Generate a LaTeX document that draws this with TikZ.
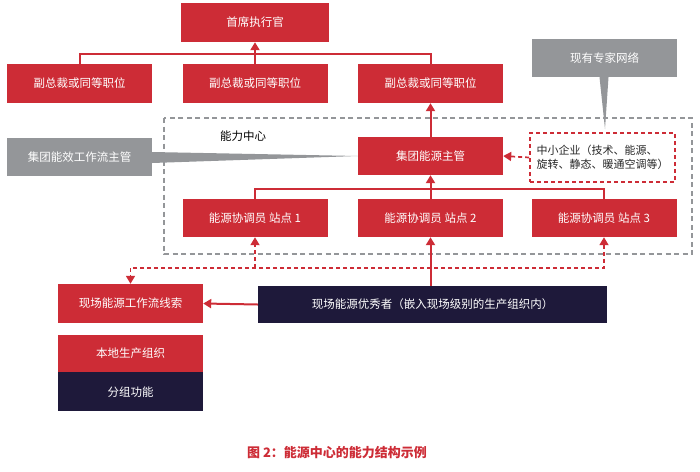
\documentclass[tikz,border=0pt]{standalone}
\usepackage{fontspec}
\setmainfont{Noto Sans CJK SC}
\definecolor{CoreRed}{RGB}{205,44,54}
\definecolor{DeepNavy}{RGB}{30,25,58}
\definecolor{NetGray}{RGB}{148,150,153}
\usetikzlibrary{arrows.meta, positioning, calc}

\begin{document}
\begin{tikzpicture}[x=1pt, y=-1pt,
    every node/.style={font=\fontsize{11.5}{14}\selectfont},
    redbox/.style={fill=CoreRed, text=white, minimum width=145pt, minimum height=38pt, inner sep=0pt},
    greybox/.style={fill=NetGray, text=white, minimum width=145pt, minimum height=38pt, inner sep=0pt},
    navybox/.style={fill=DeepNavy, text=white, minimum height=37pt, inner sep=0pt},
    redline/.style={draw=CoreRed, line width=2pt},
    reddash/.style={draw=CoreRed, line width=1.7pt, dash pattern=on 4pt off 3pt},
    tip/.tip={Triangle[length=8pt, width=9pt]}]

      \useasboundingbox (0,0) rectangle (700,471);

      % capability centre frame
      \draw[NetGray, line width=1.8pt, dash pattern=on 5pt off 3.5pt] (164,118) rectangle (692,254);
      \node (cclabel) at (243,136) {能力中心};

      % top of the tree
      \node[redbox, minimum width=148pt, minimum height=39pt] (ceo) at (255,22.5) {首席执行官};
      \node[redbox, minimum height=39pt] (vp1) at (79.5,83.5) {副总裁或同等职位};
      \node[redbox, minimum height=39pt] (vp2) at (255,83.5) {副总裁或同等职位};
      \node[redbox, minimum height=39pt] (vp3) at (430.5,83.5) {副总裁或同等职位};

      \coordinate (vpbus) at (255,54);
      \draw[redline] (vp1.north) |- (vpbus) -| (vp3.north);
      \draw[redline, -tip] (vp2.north) -- (ceo.south);

      % group managers
      \node[greybox] (effmgr) at (79.5,157) {集团能效工作流主管};
      \node[redbox] (energymgr) at (430.5,156) {集团能源主管};
      \draw[redline, -tip] (energymgr.north) -- (vp3.south);

      \fill[NetGray] ($(effmgr.east)+(0,-5)$) -- (energymgr.west) -- ($(effmgr.east)+(0,6)$) -- cycle;

      % experts
      \node[greybox] (expert) at (604.5,58) {现有专家网络};
      \coordinate (experttip) at (605,129);
      \fill[NetGray] ($(expert.south)+(-5,0)$) -- (experttip) -- ($(expert.south)+(4,0)$) -- cycle;

      \node[reddash, minimum width=145pt, minimum height=49pt, align=left, text=black!85,
            inner sep=2pt, font=\fontsize{11}{13.5}\selectfont] (sme) at (602.5,157.5)
            {中小企业（技术、能源、\\旋转、静态、暖通空调等）};
      \draw[reddash, -tip] (sme.west) -- (energymgr.east);

      % site coordinators
      \node[redbox] (site1) at (255,218) {能源协调员 站点 1};
      \node[redbox] (site2) at (430.5,218) {能源协调员 站点 2};
      \node[redbox] (site3) at (604,218) {能源协调员 站点 3};

      \coordinate (sitebus) at (430.5,189);
      \draw[redline] (site1.north) |- (sitebus) -| (site3.north);
      \draw[redline, -tip] (site2.north) -- (energymgr.south);

      % field level
      \node[redbox, minimum height=39pt] (fieldlead) at (130.5,303.5) {现场能源工作流线索};
      \node[navybox, minimum width=349pt] (champ) at (432.5,304.5) {现场能源优秀者（嵌入现场级别的生产组织内）};

      \coordinate (dashbus) at (255,268);
      \draw[reddash, tip-tip] (site3.south) |- (fieldlead.north |- dashbus) -- (fieldlead.north);
      \draw[reddash, -tip] (site1.south |- dashbus) -- (site1.south);
      \draw[redline, -tip] (site2.south |- champ.north) -- (site2.south);
      \draw[redline, -tip] (champ.west) -- (fieldlead.east);

      % legend
      \node[redbox, minimum height=37pt] (keylocal) at (130.5,353.5) {本地生产组织};
      \node[navybox, minimum width=145pt, minimum height=39pt, below=0pt of keylocal] (keygroup) {分组功能};

      % caption
      \node[text=CoreRed, font=\fontsize{13}{16}\selectfont\bfseries] (caption) at (337,453)
            {图 2：能源中心的能力结构示例};

\end{tikzpicture}
\end{document}
